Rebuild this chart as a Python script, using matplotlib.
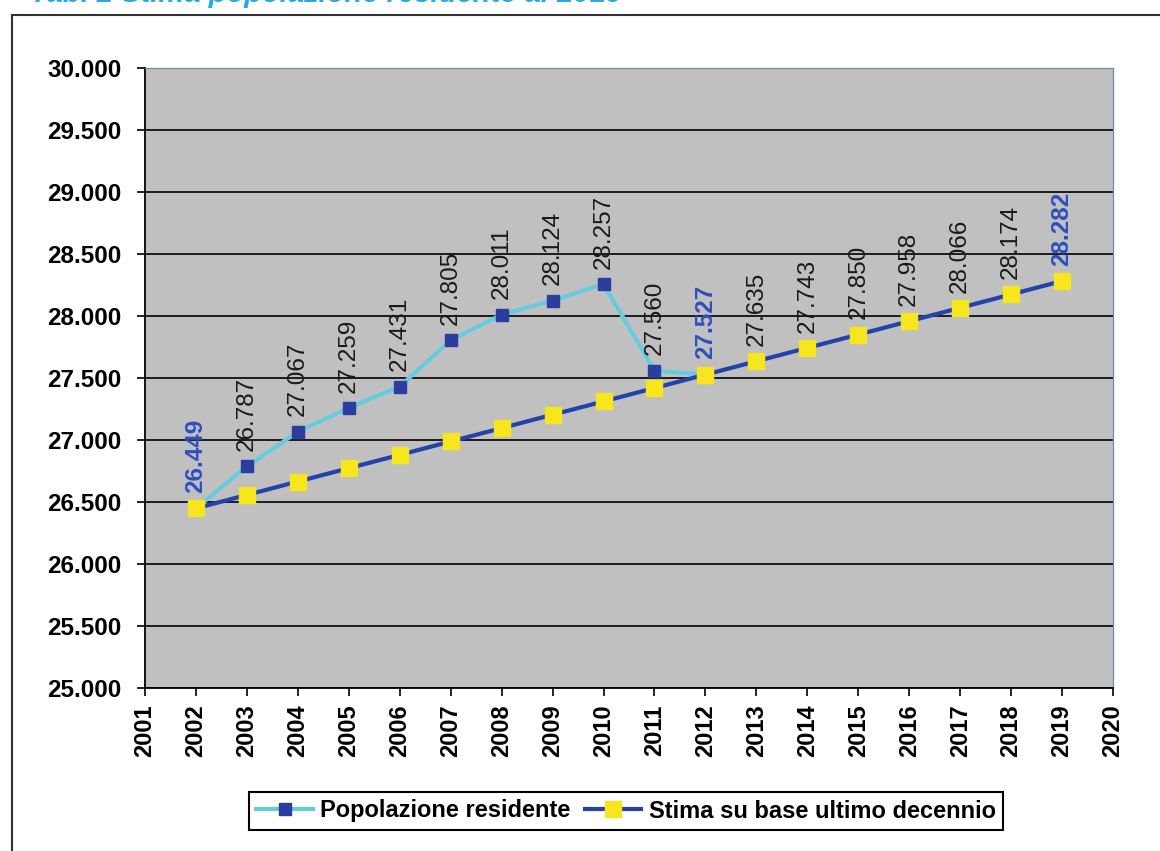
import matplotlib.pyplot as plt
from matplotlib.lines import Line2D
from matplotlib.ticker import FuncFormatter

plt.rcParams['font.family'] = ['Liberation Sans', 'DejaVu Sans']

# Popolazione residente (dati ISTAT)
anni_res = [2002, 2003, 2004, 2005, 2006, 2007, 2008, 2009, 2010, 2011, 2012]
popolazione = [26449, 26787, 27067, 27259, 27431, 27805, 28011, 28124, 28257, 27560, 27527]

# Stima su base ultimo decennio
anni_stima = [2002, 2003, 2004, 2005, 2006, 2007, 2008, 2009, 2010, 2011, 2012,
              2013, 2014, 2015, 2016, 2017, 2018, 2019]
stima = [26449, 26557, 26665, 26773, 26880, 26988, 27096, 27204, 27311, 27419, 27527,
         27635, 27743, 27850, 27958, 28066, 28174, 28282]

anni_asse = list(range(2001, 2021))
y_ticks = list(range(25000, 30001, 500))


def fmt(v):
    return f"{int(v):,}".replace(',', '.')


fig = plt.figure(figsize=(11.6, 8.51), dpi=100)
ax = fig.add_axes([145 / 1160, 1 - 688 / 851, (1113 - 145) / 1160, (688 - 68) / 851])
ax.set_facecolor('#C0C0C0')

ax.plot(anni_res, popolazione, color='#66CCDD', lw=3, marker='s', markersize=8,
        markerfacecolor='#2B3D9E', markeredgecolor='#2B3D9E', zorder=3,
        label='Popolazione residente')
ax.plot(anni_stima, stima, color='#2443A8', lw=3, marker='s', markersize=11.5,
        markerfacecolor='#F7E51E', markeredgecolor='#F7E51E', zorder=4,
        label='Stima su base ultimo decennio')

# etichette dei valori
for i, (x, v) in enumerate(zip(anni_res, popolazione)):
    evid = i == 0 or i == len(popolazione) - 1
    ax.annotate(fmt(v), (x, v), xytext=(0, 11), textcoords='offset points',
                rotation=90, ha='center', va='bottom', fontsize=17.5,
                color='#2F4FBF' if evid else '#1A1A1A',
                fontweight='bold' if evid else 'normal', zorder=5)
for i, (x, v) in enumerate(zip(anni_stima, stima)):
    if x < 2013:
        continue
    evid = i == len(stima) - 1
    ax.annotate(fmt(v), (x, v), xytext=(0, 11), textcoords='offset points',
                rotation=90, ha='center', va='bottom', fontsize=17.5,
                color='#2F4FBF' if evid else '#1A1A1A',
                fontweight='bold' if evid else 'normal', zorder=5)

ax.set_xlim(2001, 2020)
ax.set_ylim(25000, 30000)
ax.set_xticks(anni_asse)
ax.set_xticklabels([str(a) for a in anni_asse], rotation=90, fontsize=17,
                   fontweight='bold')
ax.set_yticks(y_ticks)
ax.yaxis.set_major_formatter(FuncFormatter(lambda v, p: fmt(v)))
for lab in ax.get_yticklabels():
    lab.set_fontsize(17.5)
    lab.set_fontweight('bold')
ax.tick_params(axis='both', direction='out', length=6, width=1.2, color='black')
ax.tick_params(axis='y', pad=11)
ax.tick_params(axis='x', pad=6)
ax.grid(axis='y', color='black', lw=1.2)
ax.set_axisbelow(True)

for s in ['left', 'bottom']:
    ax.spines[s].set_color('black')
    ax.spines[s].set_linewidth(1.3)
for s in ['top', 'right']:
    ax.spines[s].set_color('#6A8FA0')
    ax.spines[s].set_linewidth(0.9)

leg = fig.legend(loc='center', bbox_to_anchor=(626 / 1160, 1 - 811 / 851), ncol=2,
                 prop={'weight': 'bold', 'size': 17},
                 frameon=True, fancybox=False, edgecolor='black', framealpha=1,
                 handlelength=2.4, handletextpad=0.3, columnspacing=0.6,
                 borderpad=0.3)
leg.get_frame().set_linewidth(1.5)

# cornice esterna e titolo
fig.add_artist(Line2D([12 / 1160, 12 / 1160], [0, 1 - 15 / 851], color='#333333', lw=1.5))
fig.add_artist(Line2D([12 / 1160, 1], [1 - 15 / 851, 1 - 15 / 851], color='#333333', lw=1.5))
fig.text(30 / 1160, 1 - 2 / 851, 'Tab. 2 Stima popolazione residente al 2019',
         color='#29A9E1', fontsize=21, fontweight='bold', style='italic', va='baseline')

fig.savefig('out.png', dpi=100)
